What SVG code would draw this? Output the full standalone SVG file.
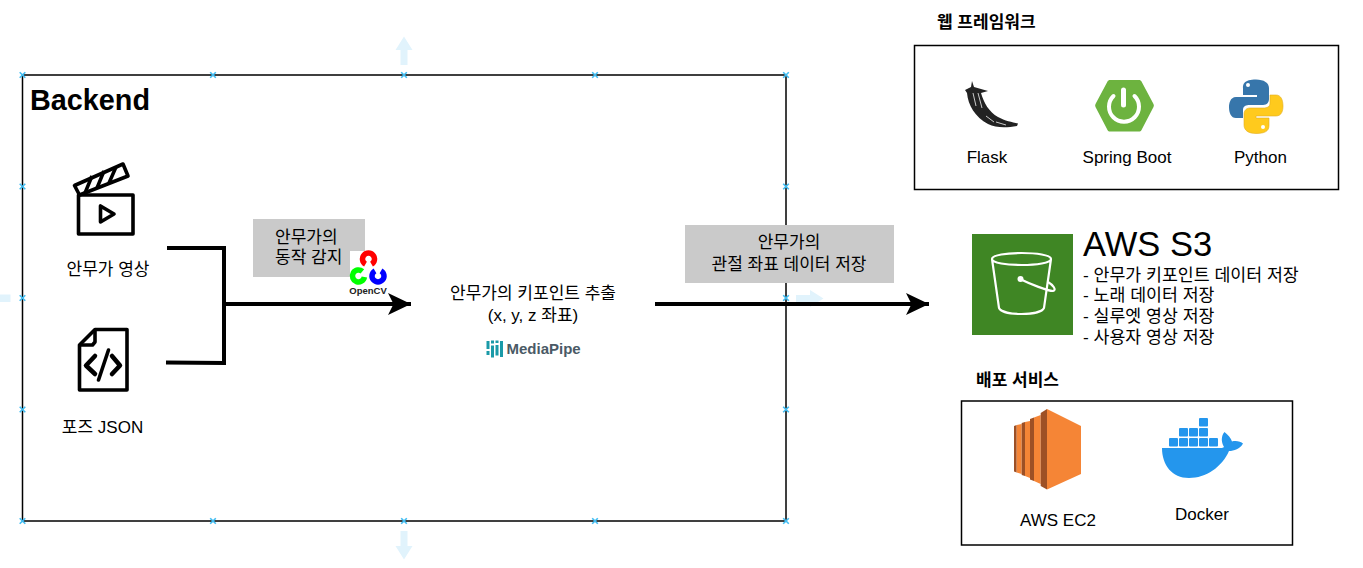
<svg xmlns="http://www.w3.org/2000/svg" width="1363" height="568" viewBox="0 0 1363 568">
<style>
text{font-family:"Liberation Sans","Noto Sans CJK KR",sans-serif;font-size:17px;fill:#000}
.c{text-anchor:middle}
.b{font-weight:bold}
.frame{fill:#fff;stroke:#000;stroke-width:1.5}
.gray{fill:#cacaca}
.conn{fill:none;stroke:#000;stroke-width:4}
.hint{fill:#e1f3fc}
.x{stroke:#41bdf2;stroke-width:1.6;fill:none}
.ic{fill:none;stroke:#000;stroke-width:3.6;stroke-linejoin:round}
.d{fill:#9d5025}
.o{fill:#f58536}
.li{font-size:17.300px}
</style>
<defs>
<marker id="ah" markerUnits="userSpaceOnUse" markerWidth="26" markerHeight="24" refX="23" refY="12" orient="auto"><path d="M0 1L23 12L0 23L5.500 12Z" fill="#000"/></marker>
<path id="hx" d="M-2.800-2.800L2.800 2.800M-2.800 2.800L2.800-2.800" class="x"/>
</defs>
<g id="backend">
<rect class="frame" x="22.500" y="75" width="763.500" height="446"/>
<text class="b" x="30" y="110" style="font-size:28.800px">Backend</text>
</g>
<g id="handles">
<use href="#hx" x="22.500" y="75"/><use href="#hx" x="213" y="75"/><use href="#hx" x="404" y="75"/><use href="#hx" x="595" y="75"/><use href="#hx" x="786" y="75"/>
<use href="#hx" x="22.500" y="186.500"/><use href="#hx" x="786" y="186.500"/>
<use href="#hx" x="22.500" y="298"/><use href="#hx" x="786" y="298"/>
<use href="#hx" x="22.500" y="409.500"/><use href="#hx" x="786" y="409.500"/>
<use href="#hx" x="22.500" y="521"/><use href="#hx" x="213" y="521"/><use href="#hx" x="404" y="521"/><use href="#hx" x="595" y="521"/><use href="#hx" x="786" y="521"/>
<path class="hint" d="M404 36.500L412.500 50H407.500V65H400.500V50H395.500Z"/>
<path class="hint" d="M404 559.500L412.500 546H407.500V531H400.500V546H395.500Z"/>
<path class="hint" d="M0 294.500H10.500V302H0Z"/>
<path class="hint" d="M796 295H810V290L823.500 298.500L810 307V302H796Z"/>
</g>
<g id="video">
<path class="ic" d="M78.500 195H133V234H78.500Z"/>
<path class="ic" d="M100.500 206V222L114 214Z"/>
<path class="ic" d="M74.500 185.500L123 164L128 176L79.500 195Z"/>
<path d="M85 193L92 176M97 188L104 171M109 183L116 167" stroke="#000" stroke-width="3.500" fill="none"/>
<text class="c" x="108" y="274.500">안무가 영상</text>
</g>
<g id="json">
<path class="ic" d="M79.500 345L95 329.500H127V390H79.500Z"/>
<path class="ic" d="M79.500 345H92.500L95 342V329.500"/>
<path d="M95 356L86 365.500L95 374M112 356L120 365.500L112 374" fill="none" stroke="#000" stroke-width="4.500" stroke-linecap="round" stroke-linejoin="round"/>
<path d="M108.500 350L98.500 380" fill="none" stroke="#000" stroke-width="3.600" stroke-linecap="round"/>
<text class="c" x="102.500" y="432.500">포즈 JSON</text>
</g>
<g id="connectors">
<path class="conn" d="M167 248H224V363L166 362.500"/>
<path class="conn" d="M226 304H411" marker-end="url(#ah)"/>
<path class="conn" d="M655 304H929" marker-end="url(#ah)"/>
</g>
<g id="detect-label">
<rect class="gray" x="253" y="219" width="112" height="58"/>
<text x="275" y="242.500">안무가의</text>
<text x="275" y="262.500">동작 감지</text>
</g>
<g id="opencv">
<rect x="350" y="251" width="37" height="26" fill="#fff"/>
<path d="M371.500 264.200A6 6 0 1 0 365.500 264.200" fill="none" stroke="#f00" stroke-width="5.500"/>
<path d="M362.400 271.400A6 6 0 1 0 364.400 277" fill="none" stroke="#0f0" stroke-width="5.500"/>
<path d="M375 270.800A6 6 0 1 0 381 270.800" fill="none" stroke="#00f" stroke-width="5.500"/>
<text class="c b" x="368" y="294" style="font-size:9.500px;fill:#222">OpenCV</text>
</g>
<g id="mediapipe-step">
<text class="c" x="533" y="298.500">안무가의 키포인트 추출</text>
<text class="c" x="533" y="320.500">(x, y, z 좌표)</text>
<path d="M486.500 341h3v8h-3ZM486.500 351h3v4h-3ZM491 340.500h3v3h-3ZM491 345.500h3v12h-3ZM495.500 345h3v10.500h-3ZM495.500 340.500h3v2.500h-3ZM500 341h3v16h-3Z" fill="#1a9aa8"/>
<text x="506.500" y="354" style="font-size:15px;font-weight:bold;fill:#4a5a66">MediaPipe</text>
</g>
<g id="store-label">
<rect class="gray" x="685" y="225" width="209" height="58"/>
<text class="c" x="789" y="247.500">안무가의</text>
<text class="c" x="789" y="269.500">관절 좌표 데이터 저장</text>
</g>
<g id="web-frameworks">
<text class="b" x="937" y="28">웹 프레임워크</text>
<rect class="frame" x="914.500" y="45.500" width="424" height="144"/>
</g>
<g id="flask">
<path d="M972 81L974 87L988 91L981 93C984 103 989 112 998 117C1005 121 1012 122 1018 123.500L1017 126C1006 128 996 128 988 124C975 117 968 105 967 93L965 90L971 87Z" fill="#222"/>
<path d="M973 93L976 106M978 93L982 108M986 116L994 122M996 122L1006 125" stroke="#ddd" stroke-width=".9" fill="none"/>
<text class="c" x="987" y="163">Flask</text>
</g>
<g id="spring">
<path d="M1110 80H1139C1140 80 1141 80.500 1141.500 81.500L1153.500 104C1154 105 1154 106 1153.500 107L1141.500 130C1141 131 1140 131.500 1139 131.500H1110C1109 131.500 1108 131 1107.500 130L1095.500 107C1095 106 1095 105 1095.500 104L1107.500 81.500C1108 80.500 1109 80 1110 80Z" fill="#6db33f"/>
<path d="M1113.500 96A15 15 0 1 0 1134.500 96" fill="none" stroke="#fff" stroke-width="4" stroke-linecap="round"/>
<path d="M1123.500 90V105" stroke="#fff" stroke-width="5" stroke-linecap="round"/>
<text class="c" x="1127" y="163">Spring Boot</text>
</g>
<g id="python">
<path d="M1256 79.500C1244 79.500 1243 84 1243 88V95H1257V97H1236C1230 97 1229 104 1229 107C1229 113 1231 118 1236 118H1243V110C1243 106 1246 105 1250 105H1263C1267 105 1269 102 1269 99V88C1269 83 1264 79.500 1256 79.500Z" fill="#3776ab"/>
<circle cx="1248" cy="85" r="2" fill="#fff"/>
<path d="M1256 133.500C1268 133.500 1269 129 1269 125V118H1256V116H1276C1282 116 1283 110 1283 106C1283 100 1281 95 1276 95H1270V103C1270 107 1267 108 1263 108H1250C1246 108 1244 111 1244 114V125C1244 130 1248 133.500 1256 133.500Z" fill="#ffca1d" stroke="#e0ac20" stroke-width=".6"/>
<circle cx="1263" cy="127" r="2" fill="#fff"/>
<text class="c" x="1260.500" y="163">Python</text>
</g>
<g id="s3">
<rect x="972" y="234" width="101" height="101" fill="#3f8624"/>
<path d="M992 259C992 267 1051 267 1051 259C1051 251 992 251 992 259ZM992 259L999 308C1003 316 1040 316 1044 308L1051 259" fill="none" stroke="#fff" stroke-width="2.200"/>
<path d="M1020 279C1030 284 1048 291 1053 291C1057 290 1053 285 1048 282" fill="none" stroke="#fff" stroke-width="2.200"/>
<circle cx="1020.500" cy="279" r="3" fill="#fff"/>
<text x="1083" y="256" style="font-size:34.500px">AWS S3</text>
<text class="li" x="1083" y="281">- 안무가 키포인트 데이터 저장</text>
<text class="li" x="1083" y="301">- 노래 데이터 저장</text>
<text class="li" x="1083" y="322">- 실루엣 영상 저장</text>
<text class="li" x="1083" y="343">- 사용자 영상 저장</text>
</g>
<g id="deploy">
<text class="b" x="976" y="385.500">배포 서비스</text>
<rect class="frame" x="961.500" y="401" width="331" height="144"/>
</g>
<g id="ec2">
<path class="d" d="M1014 426L1016.700 425V472.500L1014 471.500Z"/><path class="o" d="M1016.700 425L1021.700 424V474L1016.700 472.500Z"/>
<path class="d" d="M1021.700 423L1025 422V476L1021.700 475Z"/><path class="o" d="M1025 422L1030 421V478L1025 476Z"/>
<path class="d" d="M1030 419L1034 417.500V481L1030 479.500Z"/><path class="o" d="M1034 417.500L1040.700 415V484L1034 481Z"/>
<path class="d" d="M1040.700 413L1047 409V489.500L1040.700 486Z"/>
<path class="o" d="M1047 409L1081 426V474L1047 489.500Z"/>
<text class="c" x="1058" y="526">AWS EC2</text>
</g>
<g id="docker">
<path d="M1162 448H1220C1222 448 1224 447.500 1224 447C1221 442 1221 436 1224.500 432C1228 435 1231 438 1232 441.500C1236 440.500 1241 441.500 1243 443.500C1240 449 1234 451 1229 451C1222 467 1206 478 1189 478C1172 478 1162 465 1162 448Z" fill="#2496ed"/>
<g fill="#2496ed"><rect x="1169" y="438" width="9" height="8.500" rx="1"/><rect x="1179" y="438" width="9" height="8.500" rx="1"/><rect x="1189" y="438" width="9" height="8.500" rx="1"/><rect x="1199" y="438" width="9" height="8.500" rx="1"/><rect x="1209" y="438" width="9" height="8.500" rx="1"/><rect x="1179" y="428" width="9" height="8.500" rx="1"/><rect x="1189" y="428" width="9" height="8.500" rx="1"/><rect x="1199" y="428" width="9" height="8.500" rx="1"/><rect x="1199" y="418" width="9" height="8.500" rx="1"/></g>
<text class="c" x="1202" y="519.500">Docker</text>
</g>
</svg>
